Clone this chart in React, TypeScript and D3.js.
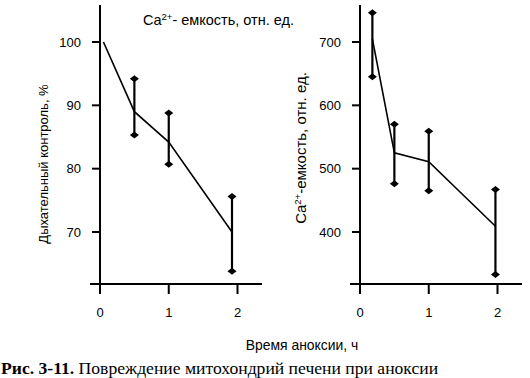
import React from "react";
import * as d3 from "d3";

// Left panel: respiratory control
const hoursLeft = [0.05, 0.5, 1, 1.92];
const respControl = [100, 89, 84.2, 70];
const respErrLow: (number | null)[] = [null, 85.3, 80.7, 63.8];
const respErrHigh: (number | null)[] = [null, 94.2, 88.8, 75.6];
const leftYTicks = [70, 80, 90, 100];

// Right panel: Ca2+ capacity
const hoursRight = [0.18, 0.5, 1, 1.97];
const caCapacity = [705, 525, 511, 409];
const caErrLow = [645, 476, 465, 333];
const caErrHigh = [746, 570, 559, 467];
const rightYTicks = [400, 500, 600, 700];

const xTicks = [0, 1, 2];
const xTickLabels = ["0", "1", "2"];

const FONT = "'Liberation Sans', Arial, Helvetica, sans-serif";

type PanelProps = {
  x0: number;
  hours: number[];
  values: number[];
  lows: (number | null)[];
  highs: (number | null)[];
  yDomain: [number, number];
  yTicks: number[];
  yLabel: React.ReactNode;
  yLabelX: number;
  yLabelY: number;
  yLabelSize: number;
};

function Diamond({ cx, cy }: { cx: number; cy: number }) {
  const w = 4.5, h = 3.5;
  return (
    <path
      d={`M${cx - w},${cy}L${cx},${cy - h}L${cx + w},${cy}L${cx},${cy + h}Z`}
      fill="#000"
    />
  );
}

function Panel(p: PanelProps) {
  const x = d3.scaleLinear().domain([0, 2]).range([p.x0, p.x0 + 137.5]);
  const y = d3.scaleLinear().domain(p.yDomain).range([232, 42]);
  const axisY = 284;
  const line = d3
    .line<number>()
    .x((_, i) => x(p.hours[i]))
    .y((d) => y(d));
  return (
    <g>
      <line x1={p.x0} x2={p.x0} y1={5} y2={axisY} stroke="#000" strokeWidth={2} />
      {p.yTicks.map((t) => (
        <g key={t}>
          <line x1={p.x0 - 8} x2={p.x0} y1={y(t)} y2={y(t)} stroke="#000" strokeWidth={2} />
          <text
            x={p.x0 - 19}
            y={y(t)}
            dy="0.35em"
            textAnchor="end"
            fontSize={13}
            fontFamily={FONT}
          >
            {t}
          </text>
        </g>
      ))}
      <line x1={p.x0 - 10} x2={p.x0 + 162} y1={axisY} y2={axisY} stroke="#000" strokeWidth={2} />
      {xTicks.map((t, i) => (
        <g key={t}>
          <line x1={x(t)} x2={x(t)} y1={axisY} y2={axisY + 10} stroke="#000" strokeWidth={2} />
          <text
            x={x(t)}
            y={317}
            textAnchor="middle"
            fontSize={13}
            fontFamily={FONT}
          >
            {xTickLabels[i]}
          </text>
        </g>
      ))}
      {p.hours.map((h, i) => {
        const lo = p.lows[i];
        const hi = p.highs[i];
        if (lo == null || hi == null) return null;
        return (
          <g key={i}>
            <line x1={x(h)} x2={x(h)} y1={y(lo)} y2={y(hi)} stroke="#000" strokeWidth={2.2} />
            <Diamond cx={x(h)} cy={y(lo)} />
            <Diamond cx={x(h)} cy={y(hi)} />
          </g>
        );
      })}
      <path d={line(p.values) || ""} fill="none" stroke="#000" strokeWidth={1.6} />
      <text
        transform={`translate(${p.yLabelX},${p.yLabelY}) rotate(-90)`}
        textAnchor="middle"
        fontSize={p.yLabelSize}
        fontFamily={FONT}
      >
        {p.yLabel}
      </text>
    </g>
  );
}

export default function App() {
  return (
    <svg
      width={530}
      height={378}
      style={{ position: "absolute", left: 0, top: 0, background: "#fff" }}
    >
      <rect width={530} height={378} fill="#fff" />
      <Panel
        x0={100}
        hours={hoursLeft}
        values={respControl}
        lows={respErrLow}
        highs={respErrHigh}
        yDomain={[70, 100]}
        yTicks={leftYTicks}
        yLabel="Дыхательный контроль, %"
        yLabelX={48}
        yLabelY={164}
        yLabelSize={13}
      />
      <Panel
        x0={360}
        hours={hoursRight}
        values={caCapacity}
        lows={caErrLow}
        highs={caErrHigh}
        yDomain={[400, 700]}
        yTicks={rightYTicks}
        yLabel={
          <>
            Ca<tspan dy="-5" fontSize={9.5}>2+</tspan>
            <tspan dy="5">-емкость,  отн. ед.</tspan>
          </>
        }
        yLabelX={306}
        yLabelY={148}
        yLabelSize={15}
      />
      <text x={143} y={25} fontSize={14.5} fontFamily={FONT}>
        Ca<tspan dy="-5" fontSize={9.5}>2+</tspan>
        <tspan dy="5">- емкость, отн. ед.</tspan>
      </text>
      <text x={302} y={350} textAnchor="middle" fontSize={13.9} fontFamily={FONT}>
        Время аноксии, ч
      </text>
      <text x={1} y={374} fontSize={17.6} fontFamily="'Liberation Serif', 'Times New Roman', serif">
        <tspan fontWeight="bold">Рис. 3-11.</tspan> Повреждение митохондрий печени при аноксии
      </text>
    </svg>
  );
}
